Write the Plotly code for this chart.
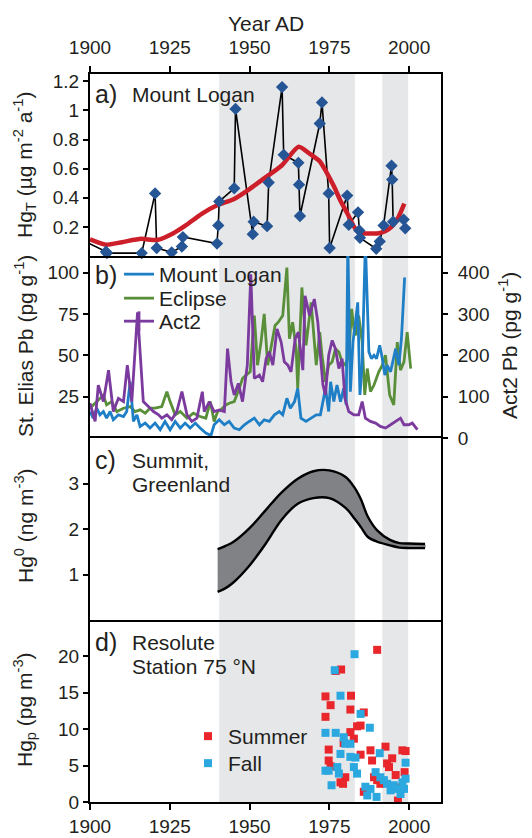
import plotly.graph_objects as go

FONT = "Liberation Sans, Arial, sans-serif"
INK = "#231f20"

# ---------------- data ----------------
# Shaded periods
shade_start = [1940.5, 1991.6]
shade_end = [1983.0, 1999.7]

# Panel a: Mount Logan Hg_T (ug m-2 a-1)
hg_year = [1898.5, 1905.0, 1905.3, 1916.2, 1920.4, 1920.9, 1925.6, 1928.8, 1929.1, 1939.8,
           1940.2, 1940.5, 1945.2, 1945.6, 1951.0, 1951.3, 1955.5, 1956.0, 1960.2, 1960.7,
           1965.3, 1965.5, 1965.8, 1972.0, 1972.7, 1974.8, 1975.1, 1980.6, 1981.1, 1984.0,
           1984.4, 1984.6, 1989.7, 1990.8, 1992.0, 1994.5, 1994.7, 1995.0, 1998.3, 1998.8]
hg_val = [0.10, 0.03, 0.02, 0.02, 0.43, 0.055, 0.025, 0.065, 0.13, 0.085,
          0.21, 0.375, 0.465, 1.01, 0.15, 0.235, 0.205, 0.505, 1.16, 0.695,
          0.64, 0.49, 0.275, 0.91, 1.055, 0.43, 0.055, 0.415, 0.215, 0.30,
          0.175, 0.125, 0.05, 0.10, 0.21, 0.62, 0.525, 0.235, 0.25, 0.19]
smooth_year = [1900, 1905, 1910, 1916, 1921, 1926, 1930, 1935, 1940, 1945, 1950, 1955, 1960,
               1965.4, 1969, 1972, 1974, 1976.4, 1978.5, 1980.6, 1982.5, 1984.2, 1987, 1990,
               1992.5, 1994.5, 1996.5, 1998.5]
smooth_val = [0.115, 0.078, 0.095, 0.118, 0.11, 0.155, 0.21, 0.29, 0.35, 0.39, 0.46, 0.54, 0.62,
              0.75, 0.70, 0.65, 0.58, 0.48, 0.38, 0.295, 0.21, 0.16, 0.155, 0.155,
              0.17, 0.20, 0.26, 0.36]

# Panel b: St. Elias Pb (pg g-1)
logan_year = [1900.0, 1901.0, 1902.1, 1903.1, 1904.2, 1905.2, 1906.3, 1907.3, 1908.9, 1910.5,
              1911.5, 1912.6, 1913.6, 1914.7, 1915.7, 1917.3, 1918.8, 1920.4, 1922.0, 1923.5,
              1925.1, 1926.7, 1928.3, 1929.8, 1931.4, 1933.0, 1934.5, 1936.3, 1937.9, 1938.9,
              1940.5, 1942.1, 1943.6, 1945.2, 1946.8, 1948.4, 1949.9, 1951.5, 1953.1, 1954.6,
              1956.2, 1957.8, 1959.3, 1960.4, 1961.7, 1962.8, 1964.1, 1965.1, 1966.1, 1967.7,
              1969.3, 1970.9, 1972.2, 1973.8, 1974.8, 1975.4, 1976.4, 1977.4, 1978.5, 1979.5,
              1980.3, 1980.8, 1981.6, 1982.4, 1983.2, 1983.9, 1984.6, 1985.3, 1986.3, 1987.4,
              1988.2, 1989.0, 1989.8, 1990.8, 1991.6, 1992.4, 1993.1, 1994.2, 1995.8, 1996.8,
              1997.6, 1998.6]
logan_pb = [16, 12, 18, 14, 16, 12, 16, 11, 14, 13,
            16, 34, 10, 14, 7, 9, 6, 9, 5, 10,
            5, 10, 6, 9, 6, 9, 6, 3, 1.5, 8,
            11, 8, 10, 6, 5, 8, 10, 12, 8, 11,
            10, 14, 16, 14, 24, 18, 22, 30, 12, 10,
            12, 14, 14, 30, 16, 34, 22, 32, 22, 30,
            20, 118, 28, 58, 70, 82, 26, 44, 118, 52,
            48, 50, 48, 56, 48, 38, 44, 40, 54, 44,
            60, 97]
eclipse_year = [1900.0, 1902.1, 1904.2, 1905.2, 1906.8, 1908.4, 1910.5, 1912.6, 1914.1, 1915.7,
                1917.3, 1918.8, 1920.4, 1922.5, 1924.1, 1925.1, 1926.7, 1928.3, 1930.4, 1932.4,
                1934.5, 1936.3, 1937.7, 1938.9, 1940.0, 1941.0, 1942.6, 1943.6, 1945.2, 1946.8,
                1947.8, 1948.9, 1950.2, 1951.5, 1952.5, 1953.6, 1954.6, 1955.7, 1956.7, 1958.0,
                1959.0, 1960.4, 1961.7, 1962.5, 1963.5, 1964.6, 1965.1, 1966.4, 1967.7, 1969.3,
                1970.9, 1972.0, 1972.7, 1973.8, 1974.8, 1975.9, 1976.9, 1978.0, 1979.0, 1980.1,
                1981.1, 1982.0, 1982.7, 1983.4, 1984.2, 1985.3, 1986.1, 1986.9, 1987.9, 1989.0,
                1990.5, 1991.6, 1992.6, 1993.9, 1995.2, 1996.3, 1997.3, 1998.4, 1999.4, 2000.5]
eclipse_pb = [18, 22, 26, 20, 22, 16, 18, 19, 16, 17,
              15, 18, 18, 19, 28, 22, 14, 16, 12, 15,
              13, 12, 22, 10, 16, 17, 20, 21, 22, 30,
              36, 38, 40, 74, 44, 58, 75, 44, 54, 68,
              70, 74, 103, 60, 70, 54, 30, 91, 56, 82,
              44, 64, 50, 34, 44, 46, 54, 52, 46, 44,
              50, 78, 66, 62, 74, 58, 26, 42, 28, 32,
              40, 44, 50, 26, 20, 58, 41, 46, 64, 42]

# Panel b (right axis): Act2 Pb (pg g-1)
act2_year = [1900.0, 1901.6, 1902.6, 1904.2, 1905.8, 1907.3, 1908.9, 1910.5, 1911.7, 1913.1,
             1914.9, 1916.7, 1918.3, 1919.9, 1921.5, 1922.5, 1924.1, 1925.6, 1927.2, 1928.8,
             1930.4, 1931.9, 1933.5, 1935.2, 1935.8, 1937.4, 1938.9, 1940.5, 1942.1, 1943.1,
             1944.2, 1945.2, 1946.5, 1947.8, 1949.3, 1950.4, 1951.5, 1953.1, 1954.1, 1955.2,
             1956.2, 1957.3, 1958.6, 1959.9, 1960.9, 1962.0, 1963.0, 1964.3, 1965.3, 1966.7,
             1967.4, 1968.8, 1970.3, 1971.4, 1972.2, 1973.0, 1973.8, 1974.8, 1975.9, 1976.9,
             1978.0, 1979.0, 1979.9, 1981.1, 1982.7, 1984.2, 1985.3, 1986.3, 1987.9, 1989.5,
             1991.0, 1992.6, 1994.2, 1995.8, 1997.3, 1998.4, 1999.9, 2001.0, 2002.6]
act2_pb = [84, 40, 128, 88, 164, 64, 96, 88, 176, 88,
           304, 88, 76, 64, 56, 48, 56, 44, 64, 112,
           56, 40, 48, 112, 64, 88, 64, 68, 64, 216,
           136, 104, 132, 88, 176, 396, 144, 152, 136, 192,
           208, 176, 264, 232, 184, 176, 160, 240, 256, 164,
           344, 296, 336, 280, 200, 128, 104, 200, 236, 216,
           168, 192, 96, 64, 56, 56, 88, 48, 40, 36,
           28, 24, 32, 40, 48, 32, 32, 36, 20]

# Panel c: Summit, Greenland Hg0 (ng m-3) reconstruction envelope
summit_year = [1940, 1942.5, 1945, 1950, 1955, 1960, 1965, 1970, 1975, 1980, 1983, 1985,
               1987, 1990, 1994, 1997, 2000, 2005]
summit_upper = [1.56, 1.63, 1.72, 2.02, 2.41, 2.80, 3.10, 3.27, 3.29, 3.15, 2.90, 2.64,
                2.28, 1.97, 1.76, 1.69, 1.68, 1.67]
summit_lower = [0.62, 0.70, 0.83, 1.20, 1.67, 2.20, 2.55, 2.68, 2.68, 2.47, 2.22, 2.03,
                1.83, 1.72, 1.64, 1.59, 1.58, 1.58]

# Panel d: Resolute Hg_p (pg m-3)
summer_year = [1973.8, 1973.8, 1975.4, 1974.8, 1974.8, 1975.4, 1978.7, 1977.0, 1981.8, 1981.6,
               1981.6, 1982.7, 1983.7, 1984.8, 1985.8, 1984.8, 1979.5, 1980.0, 1978.5, 1979.3,
               1985.8, 1987.9, 1988.4, 1989.0, 1990.0, 1990.0, 1991.0, 1992.6, 1993.1, 1994.7,
               1993.7, 1995.8, 1996.5, 1997.9, 1998.9, 1998.6, 1996.8]
summer_hg = [14.5, 11.7, 13.3, 7.2, 5.7, 4.9, 18.2, 18.0, 14.6, 12.7,
             9.6, 8.7, 10.4, 10.5, 12.3, 6.5, 8.1, 3.4, 2.7, 2.5,
             1.4, 7.1, 5.7, 3.4, 20.9, 3.0, 2.5, 7.6, 5.3, 6.0,
             4.8, 3.7, 0.2, 7.1, 7.0, 4.1, 2.0]
fall_year = [1973.8, 1974.8, 1973.8, 1977.0, 1976.7, 1975.7, 1978.5, 1977.5, 1978.0, 1978.5,
             1979.5, 1980.0, 1981.6, 1981.6, 1982.7, 1983.7, 1983.2, 1982.9, 1984.8, 1987.7,
             1986.3, 1986.9, 1987.9, 1989.5, 1989.8, 1990.8, 1991.0, 1992.1, 1993.1, 1994.2,
             1995.2, 1996.3, 1997.3, 1998.4, 1998.9, 1998.9, 1997.9]
fall_hg = [4.3, 4.3, 9.5, 9.5, 18.1, 2.3, 14.6, 4.8, 3.9, 6.6,
           8.9, 8.0, 8.0, 6.2, 4.8, 3.9, 6.1, 20.3, 12.1, 10.2,
           2.1, 0.9, 1.8, 4.1, 0.7, 6.7, 3.4, 3.0, 2.5, 1.6,
           2.3, 1.8, 1.1, 1.8, 5.4, 3.2, 2.7]

# ---------------- layout helpers ----------------
W_FIG, H_FIG = 532, 838
ML, MR, MT, MB = 90, 91, 74, 36
PW = W_FIG - ML - MR
PH = H_FIG - MT - MB


def fx(x):
    return (x - ML) / PW


def fy(y):
    return (H_FIG - MB - y) / PH


BLUE_B = "#1e7fc6"
GREEN_B = "#5a8f3a"
PURPLE_B = "#7b3a9e"

fig = go.Figure()

# Panel a
fig.add_trace(go.Scatter(x=hg_year, y=hg_val, mode="lines", line=dict(color="black", width=1.6),
                         xaxis="x", yaxis="y", showlegend=False, hoverinfo="skip"))
fig.add_trace(go.Scatter(x=smooth_year, y=smooth_val, mode="lines",
                         line=dict(color="#cc1f2a", width=4.5, shape="spline", smoothing=0.6),
                         xaxis="x", yaxis="y", showlegend=False))
fig.add_trace(go.Scatter(x=hg_year[1:], y=hg_val[1:], mode="markers",
                         marker=dict(symbol="diamond", size=9.5, color="#255594"),
                         xaxis="x", yaxis="y", showlegend=False, cliponaxis=False))

# Panel b
fig.add_trace(go.Scatter(x=act2_year, y=act2_pb, mode="lines", line=dict(color=PURPLE_B, width=2.8),
                         xaxis="x2", yaxis="y5", showlegend=False, name="Act2"))
fig.add_trace(go.Scatter(x=eclipse_year, y=eclipse_pb, mode="lines", line=dict(color=GREEN_B, width=2.8),
                         xaxis="x2", yaxis="y2", name="Eclipse", legend="legend3"))
fig.add_trace(go.Scatter(x=logan_year, y=logan_pb, mode="lines", line=dict(color=BLUE_B, width=2.8),
                         xaxis="x2", yaxis="y2", name="Mount Logan", legend="legend"))
# legend entry for Act2 (line with error-bar tick)
fig.add_trace(go.Scatter(x=[None], y=[None], mode="lines+markers", name="Act2",
                         line=dict(color=PURPLE_B, width=2.8),
                         marker=dict(symbol="line-ns-open", size=14, color=PURPLE_B,
                                     line=dict(color=PURPLE_B, width=2.8)),
                         xaxis="x2", yaxis="y2", legend="legend4"))

# Panel c
fig.add_trace(go.Scatter(x=summit_year + summit_year[::-1], y=summit_upper + summit_lower[::-1],
                         mode="lines", fill="toself", fillcolor="#808285",
                         line=dict(color="rgba(0,0,0,0)", width=0, shape="spline"),
                         xaxis="x3", yaxis="y3", showlegend=False, hoverinfo="skip"))
fig.add_trace(go.Scatter(x=summit_year, y=summit_upper, mode="lines",
                         line=dict(color="black", width=2.4, shape="spline"),
                         xaxis="x3", yaxis="y3", showlegend=False))
fig.add_trace(go.Scatter(x=summit_year, y=summit_lower, mode="lines",
                         line=dict(color="black", width=2.4, shape="spline"),
                         xaxis="x3", yaxis="y3", showlegend=False))

# Panel d
fig.add_trace(go.Scatter(x=summer_year, y=summer_hg, mode="markers", name="Summer",
                         marker=dict(symbol="square", size=8, color="#e8262b"),
                         xaxis="x4", yaxis="y4", legend="legend2"))
fig.add_trace(go.Scatter(x=fall_year, y=fall_hg, mode="markers", name="Fall",
                         marker=dict(symbol="square", size=8, color="#2ba8e0"),
                         xaxis="x4", yaxis="y4", legend="legend5"))

tickfont = dict(family=FONT, size=19, color=INK)
xr = [1900, 2010]
xticks = [1900, 1925, 1950, 1975, 2000]

common_x = dict(range=xr, linecolor="black", linewidth=2, automargin=False,
                showgrid=False, zeroline=False, tickvals=xticks, tickfont=tickfont,
                ticklen=6, tickwidth=2, tickcolor="black")
common_y = dict(showline=True, linecolor="black", linewidth=2, mirror=True, showgrid=False,
                automargin=False, zeroline=False, tickfont=tickfont, ticks="outside",
                ticklen=5, tickwidth=2, tickcolor="black")

doms = [[0.75, 1.0], [0.5, 0.75], [0.25, 0.5], [0.0, 0.25]]

leg_font = dict(family=FONT, size=21, color=INK)


def leg(x, y):
    return dict(x=fx(x), y=fy(y), xanchor="left", yanchor="top", bgcolor="rgba(0,0,0,0)",
                font=leg_font, borderwidth=0)


fig.update_layout(
    width=W_FIG, height=H_FIG, autosize=False,
    margin=dict(l=ML, r=MR, t=MT, b=MB, pad=0),
    paper_bgcolor="white", plot_bgcolor="rgba(0,0,0,0)",
    font=dict(family=FONT, size=19, color=INK),
    # a: top border + a/b boundary
    xaxis=dict(common_x, domain=[0, 1], anchor="y", side="top", ticks="outside",
               showline=True, mirror=True, showticklabels=True, ticklabelstandoff=4),
    yaxis=dict(common_y, domain=doms[0], anchor="x", range=[0, 1.25],
               tickvals=[0.2, 0.4, 0.6, 0.8, 1.0, 1.2], ticktext=["0.2", "0.4", "0.6", "0.8", "1", "1.2"]),
    xaxis2=dict(common_x, domain=[0, 1], anchor="y2", ticks="", showline=False, showticklabels=False),
    yaxis2=dict(common_y, domain=doms[1], anchor="x2", range=[0, 110], tickvals=[25, 50, 75, 100]),
    yaxis5=dict(common_y, overlaying="y2", side="right", anchor="x2", range=[0, 440],
                tickvals=[0, 100, 200, 300, 400], mirror=False, ticklabelstandoff=6),
    # c: b/c and c/d boundaries
    xaxis3=dict(common_x, domain=[0, 1], anchor="y3", ticks="", showline=True, mirror=True,
                showticklabels=False),
    xaxis4=dict(common_x, domain=[0, 1], anchor="y4", side="bottom", ticks="outside",
                showline=True, mirror=False, showticklabels=True, ticklabelstandoff=0),
    yaxis3=dict(common_y, domain=doms[2], anchor="x3", range=[0, 4], tickvals=[1, 2, 3]),
    yaxis4=dict(common_y, domain=doms[3], anchor="x4", range=[0, 25], tickvals=[0, 5, 10, 15, 20]),
    legend=leg(119, 254),
    legend3=leg(119, 278),
    legend4=leg(119, 301),
    legend2=leg(188, 716),
    legend5=leg(188, 743),
)

# shaded periods across all panels
for s, e in zip(shade_start, shade_end):
    fig.add_shape(type="rect", xref="x", yref="paper", x0=s, x1=e, y0=0, y1=1,
                  fillcolor="#e6e7e9", line=dict(width=0), layer="below")

ann_font = dict(family=FONT, size=21, color=INK)
lab_font = dict(family=FONT, size=25, color=INK)


def add_text(text, x, y, font, **kw):
    fig.add_annotation(text=text, x=fx(x), y=fy(y), xref="paper", yref="paper",
                       showarrow=False, font=font, **kw)


add_text("Year AD", 265.5, 23, ann_font, xanchor="center", yanchor="middle")
add_text("a)", 93, 94, lab_font, xanchor="left", yanchor="middle")
add_text("Mount Logan", 130, 94, ann_font, xanchor="left", yanchor="middle")
add_text("b)", 93, 275, lab_font, xanchor="left", yanchor="middle")
add_text("c)", 93, 460, lab_font, xanchor="left", yanchor="middle")
add_text("Summit,", 130, 460, ann_font, xanchor="left", yanchor="middle")
add_text("Greenland", 130, 484, ann_font, xanchor="left", yanchor="middle")
add_text("d)", 93, 642, lab_font, xanchor="left", yanchor="middle")
add_text("Resolute", 130, 642, ann_font, xanchor="left", yanchor="middle")
add_text("Station 75 °N", 130, 666, ann_font, xanchor="left", yanchor="middle")

add_text("Hg<sub>T</sub> (µg m<sup>-2</sup> a<sup>-1</sup>)", 24, 165, ann_font,
         textangle=-90, xanchor="center", yanchor="middle")
add_text("St. Elias Pb (pg g<sup>-1</sup>)", 24, 346, ann_font,
         textangle=-90, xanchor="center", yanchor="middle")
add_text("Act2 Pb (pg g<sup>-1</sup>)", 508, 346, ann_font,
         textangle=-90, xanchor="center", yanchor="middle")
add_text("Hg<sup>0</sup> (ng m<sup>-3</sup>)", 24, 526, ann_font,
         textangle=-90, xanchor="center", yanchor="middle")
add_text("Hg<sub>p</sub> (pg m<sup>-3</sup>)", 24, 710, ann_font,
         textangle=-90, xanchor="center", yanchor="middle")

fig.write_html("out.html")
